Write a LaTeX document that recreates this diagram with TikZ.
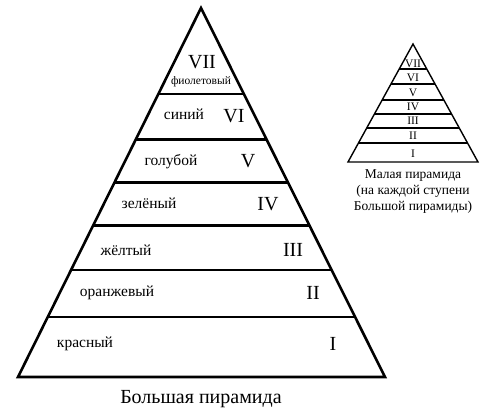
\documentclass[tikz,border=0pt]{standalone}
\usepackage{fontspec}
\setmainfont{Liberation Serif}
\usetikzlibrary{calc, positioning}

\begin{document}
\begin{tikzpicture}[x=1pt, y=-1pt,
		level/.style={line width=2.4pt},
		small level/.style={line width=1.2pt},
		numeral/.style={anchor=base, inner sep=0pt, font=\fontsize{20}{22}\selectfont},
		colour/.style={anchor=base, inner sep=0pt, font=\fontsize{15.5}{18}\selectfont},
		small numeral/.style={anchor=base, inner sep=0pt, font=\fontsize{11.5}{12}\selectfont}]
		\useasboundingbox (0,0) rectangle (496,409);

		% Big pyramid
		\coordinate (apex) at (201,8);
		\coordinate (bl) at (18,377);
		\coordinate (br) at (385,377);
		\draw[line width=2.6pt] (bl) -- (apex) -- (br) -- cycle;
		\foreach \t in {0.2324,0.3568,0.4730,0.5892,0.7108,0.8378}
			\draw[level] ($(apex)!\t!(bl)$) -- ($(apex)!\t!(br)$);

		% Small pyramid
		\coordinate (sapex) at (413,44);
		\coordinate (sbl) at (348,162);
		\coordinate (sbr) at (478,162);
		\coordinate (sbase) at (413,163);
		\draw[line width=1.4pt] (sbl) -- (sapex) -- (sbr) -- cycle;
		\foreach \t in {0.2119,0.339,0.5932,0.7119,0.839}
			\draw[small level] ($(sapex)!\t!(sbl)$) -- ($(sapex)!\t!(sbr)$);
		\draw[line width=2pt] ($(sapex)!0.4746!(sbl)$) -- ($(sapex)!0.4746!(sbr)$);

		% Levels of the big pyramid
		\node (vii) [numeral] at (202,69) {VII};
		\node (violet) [colour, font=\fontsize{11.5}{12}\selectfont] at (201,85) {фиолетовый};
		\node (blue) [colour] at (184,120) {синий};
		\node (vi) [numeral] at (234,123) {VI};
		\node (lightblue) [colour] at (171,166) {голубой};
		\node (v) [numeral] at (248,168) {V};
		\node (green) [colour] at (149,209) {зелёный};
		\node (iv) [numeral] at (268,211) {IV};
		\node (yellow) [colour] at (126,255) {жёлтый};
		\node (iii) [numeral] at (293,257) {III};
		\node (orange) [colour] at (117,297) {оранжевый};
		\node (ii) [numeral] at (313,299) {II};
		\node (red) [colour] at (85,348) {красный};
		\node (i) [numeral] at (333,350) {I};
		\node (big caption) [numeral] at (201,403) {Большая пирамида};

		% Levels of the small pyramid
		\node (s vii) [small numeral] at (413,68) {VII};
		\node (s vi) [small numeral] at (413,82) {VI};
		\node (s v) [small numeral] at (413,97) {V};
		\node (s iv) [small numeral] at (413,111) {IV};
		\node (s iii) [small numeral] at (413,125) {III};
		\node (s ii) [small numeral] at (413,140) {II};
		\node (s i) [small numeral] at (413,158) {I};
		\node (small caption) [below=6pt of sbase, inner sep=0pt, align=center,
			font=\fontsize{13.5}{16}\selectfont] {Малая пирамида\\(на каждой ступени\\Большой пирамиды)};
	\end{tikzpicture}
\end{document}
